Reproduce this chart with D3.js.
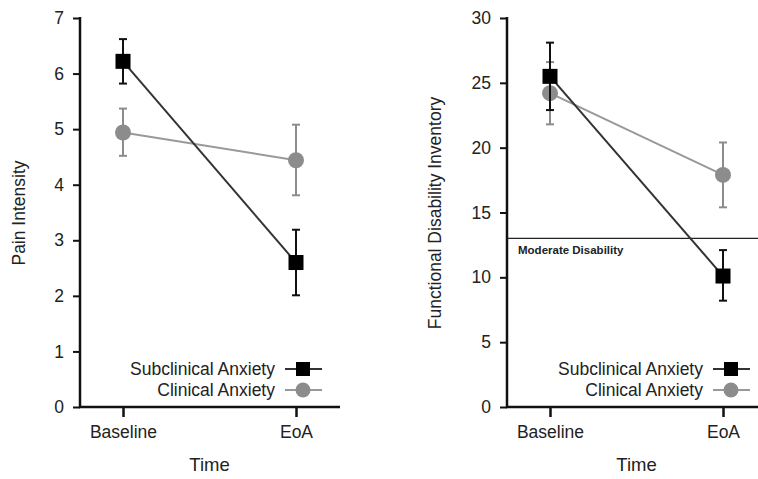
<!DOCTYPE html>
<html>
<head>
<meta charset="utf-8">
<script src="https://cdn.jsdelivr.net/npm/d3@7"></script>
<style>
  body { margin: 0; background: #fff; }
  svg text { font-family: "Liberation Sans", Arial, sans-serif; fill: #222; }
</style>
</head>
<body>
<svg id="chart" width="758" height="479"></svg>
<script>
// time points
const timePoints = ["Baseline", "EoA"];
const seriesNames = ["Subclinical Anxiety", "Clinical Anxiety"];

// pain intensity: mean, lower, upper
const painSub = [6.22, 2.60];
const painSubLo = [5.82, 2.01];
const painSubHi = [6.62, 3.19];
const painClin = [4.94, 4.44];
const painClinLo = [4.52, 3.81];
const painClinHi = [5.37, 5.08];

// functional disability inventory
const fdiSub = [25.5, 10.1];
const fdiSubLo = [22.9, 8.2];
const fdiSubHi = [28.1, 12.1];
const fdiClin = [24.2, 17.9];
const fdiClinLo = [21.8, 15.4];
const fdiClinHi = [26.6, 20.4];

const painTicks = [0, 1, 2, 3, 4, 5, 6, 7];
const fdiTicks = [0, 5, 10, 15, 20, 25, 30];
const moderateLevel = 13;

const svg = d3.select("#chart");

function drawPanel(opt) {
  const g = svg.append("g");
  const y = d3.scaleLinear().domain(opt.domain).range([407, 18]);
  const x = d3.scalePoint().domain(timePoints).range([opt.x0, opt.x1]);

  // y axis
  const yAxis = g.append("g")
    .attr("transform", `translate(${opt.axisX},0)`)
    .call(d3.axisLeft(y).tickValues(opt.ticks).tickFormat(d3.format("d")).tickSize(7).tickPadding(9));
  yAxis.select(".domain").remove();
  yAxis.selectAll("line").attr("stroke", "#111").attr("stroke-width", 2);
  yAxis.selectAll("text").style("font-size", "17.5px").attr("fill", "#333");
  g.append("line")
    .attr("x1", opt.axisX).attr("x2", opt.axisX)
    .attr("y1", y(opt.domain[1]) - 1).attr("y2", y(0) + 1)
    .attr("stroke", "#111").attr("stroke-width", 2.5);

  // x axis
  const xAxis = g.append("g")
    .attr("transform", `translate(0,${y(0)})`)
    .call(d3.axisBottom(x).tickSize(10).tickPadding(9));
  xAxis.select(".domain").remove();
  xAxis.selectAll("line").attr("stroke", "#111").attr("stroke-width", 2.5);
  xAxis.selectAll("text").style("font-size", "17.5px").attr("fill", "#333");
  g.append("line")
    .attr("x1", opt.axisX - 1).attr("x2", opt.xEnd)
    .attr("y1", y(0)).attr("y2", y(0))
    .attr("stroke", "#111").attr("stroke-width", 2.5);

  g.append("text")
    .attr("x", (opt.x0 + opt.x1) / 2)
    .attr("y", 471)
    .attr("text-anchor", "middle")
    .style("font-size", "18.5px")
    .text("Time");

  g.append("text")
    .attr("transform", `translate(${opt.labelX},213) rotate(-90)`)
    .attr("text-anchor", "middle")
    .style("font-size", "17.5px")
    .text(opt.yLabel);

  if (opt.refLine != null) {
    g.append("line")
      .attr("x1", opt.axisX).attr("x2", 758)
      .attr("y1", y(opt.refLine)).attr("y2", y(opt.refLine))
      .attr("stroke", "#222").attr("stroke-width", 1.3);
    g.append("text")
      .attr("x", opt.axisX + 11)
      .attr("y", y(opt.refLine) + 16)
      .style("font-size", "11.5px")
      .style("font-weight", "bold")
      .attr("fill", "#333")
      .text("Moderate Disability");
  }

  const series = [
    { name: seriesNames[1], mean: opt.clin, lo: opt.clinLo, hi: opt.clinHi, color: "#8c8c8c", line: "#999", shape: "circle" },
    { name: seriesNames[0], mean: opt.sub, lo: opt.subLo, hi: opt.subHi, color: "#000", line: "#333", shape: "square" }
  ];

  series.forEach(s => {
    const pts = timePoints.map((t, i) => ({ t, m: s.mean[i], lo: s.lo[i], hi: s.hi[i] }));
    // error bars
    const eb = g.append("g").attr("stroke", s.shape === "square" ? "#111" : "#8c8c8c").attr("stroke-width", 2);
    pts.forEach(p => {
      eb.append("line").attr("x1", x(p.t)).attr("x2", x(p.t)).attr("y1", y(p.lo)).attr("y2", y(p.hi));
      eb.append("line").attr("x1", x(p.t) - 4).attr("x2", x(p.t) + 4).attr("y1", y(p.lo)).attr("y2", y(p.lo));
      eb.append("line").attr("x1", x(p.t) - 4).attr("x2", x(p.t) + 4).attr("y1", y(p.hi)).attr("y2", y(p.hi));
    });
    g.append("path")
      .datum(pts)
      .attr("fill", "none")
      .attr("stroke", s.line)
      .attr("stroke-width", 2)
      .attr("d", d3.line().x(d => x(d.t)).y(d => y(d.m)));
    pts.forEach(p => {
      if (s.shape === "square") {
        g.append("rect")
          .attr("x", x(p.t) - 7.5).attr("y", y(p.m) - 7.5)
          .attr("width", 15).attr("height", 15)
          .attr("fill", s.color);
      } else {
        g.append("circle")
          .attr("cx", x(p.t)).attr("cy", y(p.m)).attr("r", 8)
          .attr("fill", s.color);
      }
    });
  });

  // legend
  const lg = g.append("g");
  const rows = [
    { name: seriesNames[0], color: "#000", line: "#333", shape: "square" },
    { name: seriesNames[1], color: "#8c8c8c", line: "#999", shape: "circle" }
  ];
  rows.forEach((r, i) => {
    const ly = 369 + i * 21;
    lg.append("text")
      .attr("x", opt.legendX)
      .attr("y", ly + 6)
      .attr("text-anchor", "end")
      .style("font-size", "17.5px")
      .text(r.name);
    lg.append("line")
      .attr("x1", opt.legendX + 10).attr("x2", opt.legendX + 47)
      .attr("y1", ly).attr("y2", ly)
      .attr("stroke", r.line).attr("stroke-width", 2);
    const mx = opt.legendX + 28;
    if (r.shape === "square") {
      lg.append("rect").attr("x", mx - 7).attr("y", ly - 7).attr("width", 14).attr("height", 14).attr("fill", r.color);
    } else {
      lg.append("circle").attr("cx", mx).attr("cy", ly).attr("r", 7.5).attr("fill", r.color);
    }
  });
}

drawPanel({
  domain: [0, 7], ticks: painTicks, axisX: 80, x0: 123, x1: 296, xEnd: 340,
  labelX: 25, yLabel: "Pain Intensity", legendX: 275,
  sub: painSub, subLo: painSubLo, subHi: painSubHi,
  clin: painClin, clinLo: painClinLo, clinHi: painClinHi
});

drawPanel({
  domain: [0, 30], ticks: fdiTicks, axisX: 507, x0: 550, x1: 723, xEnd: 758,
  labelX: 441, yLabel: "Functional Disability Inventory", legendX: 703,
  refLine: moderateLevel,
  sub: fdiSub, subLo: fdiSubLo, subHi: fdiSubHi,
  clin: fdiClin, clinLo: fdiClinLo, clinHi: fdiClinHi
});
</script>
</body>
</html>
